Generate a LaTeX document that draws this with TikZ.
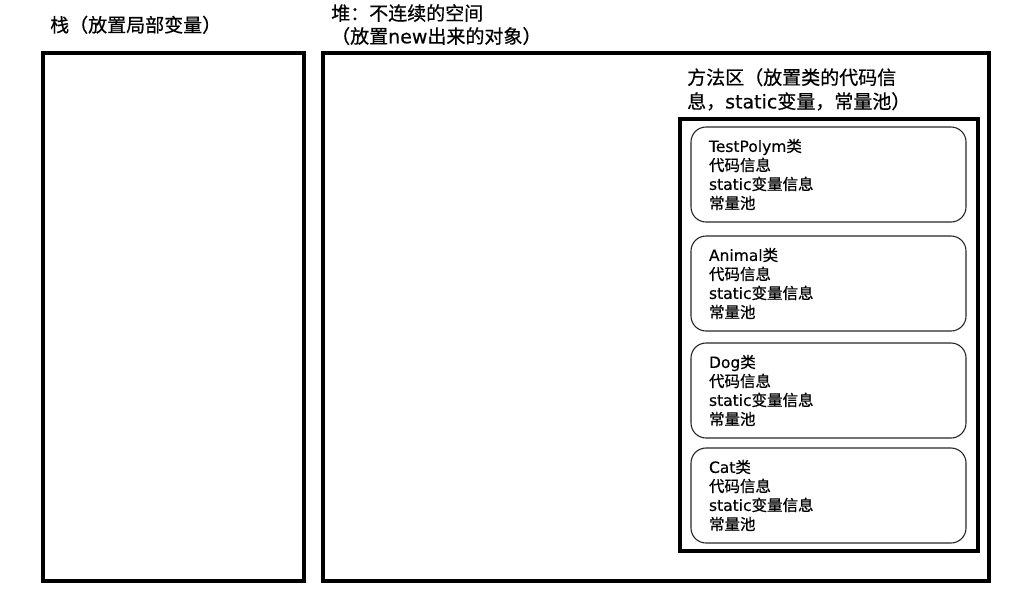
\documentclass[tikz,border=0pt]{standalone}
\usepackage{fontspec}
\setmainfont[FakeBold=0.4]{DejaVu Sans}
\newfontfamily\zh[FakeBold=0.6]{Noto Sans CJK SC}
\usetikzlibrary{positioning}

\begin{document}
\begin{tikzpicture}[x=1pt, y=-1pt,
  area/.style={draw, line width=3.2pt, inner sep=0pt},
  title/.style={inner sep=0pt, align=left, font=\fontsize{19}{23}\selectfont},
  classbox/.style={draw=black!85, line width=1.1pt, rounded corners=15pt, minimum width=275pt, minimum height=95pt,
    text width=239pt, inner xsep=18pt, inner ysep=0pt, align=left, font=\fontsize{15.5}{19}\selectfont}
]
  \useasboundingbox (0,0) rectangle (1035,598);

  % stack
  \node[area, minimum width=261pt, minimum height=528pt] (stack) at (173.5,317) {};
  \node[title, anchor=base west] (stacktitle) at (50,32) {\zh 栈（放置局部变量）};

  % heap
  \node[area, minimum width=666pt, minimum height=528pt] (heap) at (656,317) {};
  \node[title, anchor=north west] (heaptitle) at (331,4) {{\zh 堆：不连续的空间}\\{\zh （放置}new{\zh 出来的对象）}};

  % method area
  \node[area, minimum width=298pt, minimum height=432pt] (method) at (829,335) {};
  \node[title, anchor=north west, font=\fontsize{19}{24}\selectfont] (methodtitle) at (687,68)
    {{\zh 方法区（放置类的代码信}\\{\zh 息，}static{\zh 变量，常量池）}};

  % classes
  \node[classbox] (testpolym) at (828.5,174.5) {TestPolym{\zh 类}\\{\zh 代码信息}\\static{\zh 变量信息}\\{\zh 常量池}};
  \node[classbox] (animal) at (828.5,283.5) {Animal{\zh 类}\\{\zh 代码信息}\\static{\zh 变量信息}\\{\zh 常量池}};
  \node[classbox] (dog) at (828.5,390.5) {Dog{\zh 类}\\{\zh 代码信息}\\static{\zh 变量信息}\\{\zh 常量池}};
  \node[classbox] (cat) at (828.5,495.5) {Cat{\zh 类}\\{\zh 代码信息}\\static{\zh 变量信息}\\{\zh 常量池}};
\end{tikzpicture}
\end{document}
